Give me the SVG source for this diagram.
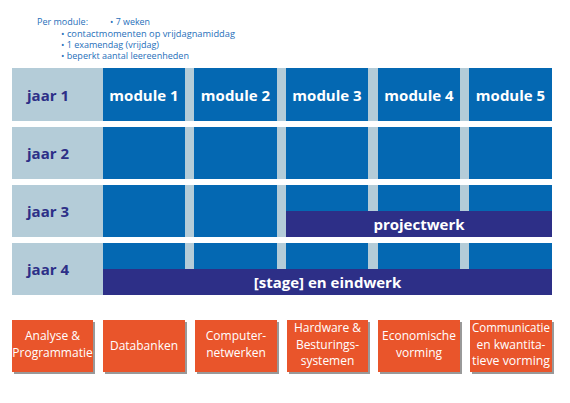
<svg xmlns="http://www.w3.org/2000/svg" width="570" height="403" viewBox="0 0 570 403">
<style>
.bg{fill:#b4ccd8}
.m{fill:#0468b2}
.band{fill:#2d2f87}
.yr{font-family:"Open Sans","DejaVu Sans",sans-serif;font-weight:bold;font-size:15px;fill:#2d2f87;text-anchor:middle}
.mt{font-family:"Open Sans","DejaVu Sans",sans-serif;font-weight:bold;font-size:15px;fill:#ffffff;text-anchor:middle}
.hd{font-family:"Open Sans","DejaVu Sans",sans-serif;font-size:9px;fill:#1f6fba}
.ob{fill:#e9552b}
.sh{fill:#6d6d6d;opacity:0.7}
.ot{font-family:"Open Sans","DejaVu Sans",sans-serif;font-size:12px;fill:#ffffff;text-anchor:middle}
</style>
<rect width="570" height="403" fill="#ffffff"/>
<g id="header">
<text class="hd" x="37" y="25" textLength="51" lengthAdjust="spacingAndGlyphs">Per module:</text>
<text class="hd" x="110" y="25" textLength="40" lengthAdjust="spacingAndGlyphs">• 7 weken</text>
<text class="hd" x="61" y="36.5" textLength="174" lengthAdjust="spacingAndGlyphs">• contactmomenten op vrijdagnamiddag</text>
<text class="hd" x="61" y="47.8" textLength="98" lengthAdjust="spacingAndGlyphs">• 1 examendag (vrijdag)</text>
<text class="hd" x="61" y="59" textLength="128" lengthAdjust="spacingAndGlyphs">• beperkt aantal leereenheden</text>
</g>
<g id="jaar1">
<rect class="bg" x="12" y="68" width="540" height="53"/>
<rect class="m" x="103" y="68" width="82" height="53"/>
<rect class="m" x="194" y="68" width="83" height="53"/>
<rect class="m" x="286" y="68" width="82" height="53"/>
<rect class="m" x="378" y="68" width="82" height="53"/>
<rect class="m" x="469" y="68" width="83" height="53"/>
<text class="yr" x="48" y="101">jaar 1</text>
<text class="mt" x="144" y="101">module 1</text>
<text class="mt" x="235.5" y="101">module 2</text>
<text class="mt" x="327" y="101">module 3</text>
<text class="mt" x="419" y="101">module 4</text>
<text class="mt" x="510.5" y="101">module 5</text>
</g>
<g id="jaar2">
<rect class="bg" x="12" y="127" width="540" height="52"/>
<rect class="m" x="103" y="127" width="82" height="52"/>
<rect class="m" x="194" y="127" width="83" height="52"/>
<rect class="m" x="286" y="127" width="82" height="52"/>
<rect class="m" x="378" y="127" width="82" height="52"/>
<rect class="m" x="469" y="127" width="83" height="52"/>
<text class="yr" x="48" y="159">jaar 2</text>
</g>
<g id="jaar3">
<rect class="bg" x="12" y="185" width="540" height="52"/>
<rect class="m" x="103" y="185" width="82" height="52"/>
<rect class="m" x="194" y="185" width="83" height="52"/>
<rect class="m" x="286" y="185" width="82" height="26"/>
<rect class="m" x="378" y="185" width="82" height="26"/>
<rect class="m" x="469" y="185" width="83" height="26"/>
<text class="yr" x="48" y="217">jaar 3</text>
</g>
<g id="projectwerk">
<rect class="band" x="286" y="211" width="266" height="26"/>
<text class="mt" x="419" y="230">projectwerk</text>
</g>
<g id="jaar4">
<rect class="bg" x="12" y="243" width="540" height="52"/>
<rect class="m" x="103" y="243" width="82" height="26"/>
<rect class="m" x="194" y="243" width="83" height="26"/>
<rect class="m" x="286" y="243" width="82" height="26"/>
<rect class="m" x="378" y="243" width="82" height="26"/>
<rect class="m" x="469" y="243" width="83" height="26"/>
<text class="yr" x="48" y="275">jaar 4</text>
</g>
<g id="stage">
<rect class="band" x="103" y="269" width="449" height="26"/>
<text class="mt" x="327.5" y="288">[stage] en eindwerk</text>
</g>
<g id="vak1">
<rect class="sh" x="14" y="322" width="81" height="52"/>
<rect class="ob" x="12" y="320" width="81" height="52"/>
<text class="ot" x="52.5" y="340">Analyse &amp;</text>
<text class="ot" x="52.5" y="356.5">Programmatie</text>
</g>
<g id="vak2">
<rect class="sh" x="105" y="322" width="82" height="52"/>
<rect class="ob" x="103" y="320" width="82" height="52"/>
<text class="ot" x="144" y="349.5">Databanken</text>
</g>
<g id="vak3">
<rect class="sh" x="197" y="322" width="82" height="52"/>
<rect class="ob" x="195" y="320" width="82" height="52"/>
<text class="ot" x="236" y="340">Computer-</text>
<text class="ot" x="236" y="356.5">netwerken</text>
</g>
<g id="vak4">
<rect class="sh" x="289" y="322" width="81" height="52"/>
<rect class="ob" x="287" y="320" width="81" height="52"/>
<text class="ot" x="327.5" y="332">Hardware &amp;</text>
<text class="ot" x="327.5" y="348.5">Besturings-</text>
<text class="ot" x="327.5" y="365">systemen</text>
</g>
<g id="vak5">
<rect class="sh" x="380" y="322" width="82" height="52"/>
<rect class="ob" x="378" y="320" width="82" height="52"/>
<text class="ot" x="419" y="340">Economische</text>
<text class="ot" x="419" y="356.5">vorming</text>
</g>
<g id="vak6">
<rect class="sh" x="472" y="322" width="82" height="52"/>
<rect class="ob" x="470" y="320" width="82" height="52"/>
<text class="ot" x="511" y="332" textLength="78" lengthAdjust="spacingAndGlyphs">Communicatie</text>
<text class="ot" x="511" y="348.5">en kwantita-</text>
<text class="ot" x="511" y="365" textLength="78" lengthAdjust="spacingAndGlyphs">tieve vorming</text>
</g>
</svg>
